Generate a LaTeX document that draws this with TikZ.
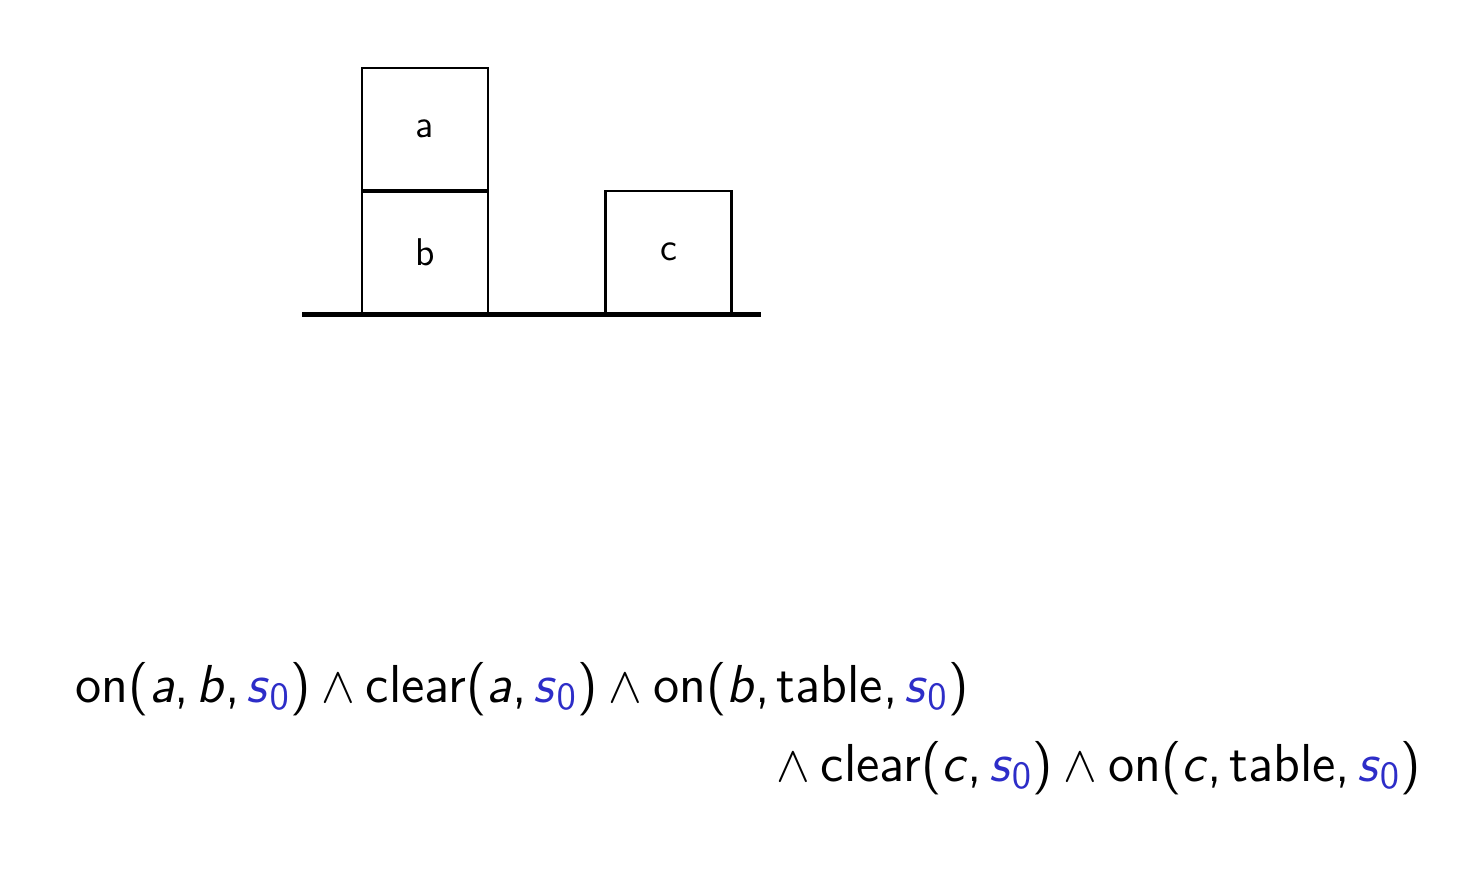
\documentclass[tikz,border=0pt]{standalone}
\usepackage{tikz}
\usepackage{xcolor}
\definecolor{sblue}{RGB}{45,45,200}
\newcommand{\vr}[1]{\textit{#1}\/}
\newcommand{\sz}{{\color{sblue}\textit{s}$_{\mathsf{0}}$}}
\newcommand{\cm}{,\hspace{0.13em}}
\newcommand{\andop}{\hspace{0.2em}$\wedge$\hspace{0.2em}}
\tikzset{
  blockbox/.style={draw, line width=0.7pt, inner sep=0pt, minimum width=1.26cm, minimum height=1.22cm, font=\sffamily\fontsize{11}{13}\selectfont},
  formula/.style={inner sep=0pt, font=\sffamily\fontsize{15.2}{18}\selectfont}
}
\begin{document}
\begin{tikzpicture}
  \useasboundingbox (0,0) rectangle (14.6,-8.77);
  %\draw[help lines] (0,-8.77) grid (14.6,0);

  % the blocks
  \node [blockbox] (blocka) at (4.25,-1.29) {a};
  \node [blockbox] (blockb) at (4.25,-2.52) {b};
  \node [blockbox] (blockc) at (6.685,-2.52) {c};
  \draw [line width=1.2pt] (blocka.south west) -- (blocka.south east);

  % the table
  \coordinate (tableleft) at (3.02,-3.145);
  \coordinate (tableright) at (7.61,-3.145);
  \draw [line width=1.5pt] (tableleft) -- (tableright);

  % the state s_0
  \node [formula, anchor=base west] (lineone) at (0.75,-7.02)
    {on(\vr{a}\cm\vr{b}\cm\sz)\andop clear(\vr{a}\cm\sz)\andop on(\vr{b}\cm table\cm\sz)};
  \node [formula, anchor=base east] (linetwo) at (14.22,-7.81)
    {$\wedge$\hspace{0.2em}clear(\vr{c}\cm\sz)\andop on(\vr{c}\cm table\cm\sz)};

\end{tikzpicture}
\end{document}
